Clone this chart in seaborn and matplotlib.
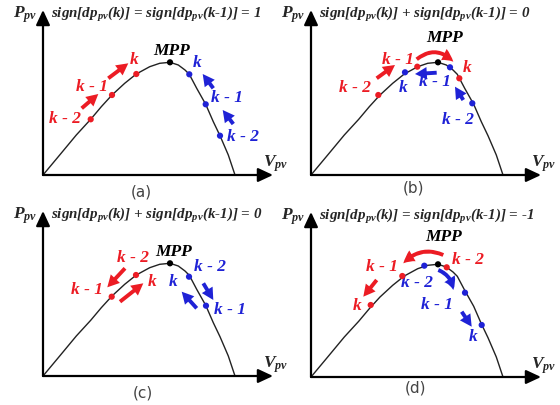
import seaborn as sns
import matplotlib.pyplot as plt

sns.set_style("white")
plt.rcParams["mathtext.fontset"] = "custom"
plt.rcParams["mathtext.rm"] = "Liberation Serif:bold"
plt.rcParams["mathtext.it"] = "Liberation Serif:italic:bold"
plt.rcParams["mathtext.bf"] = "Liberation Serif:italic:bold"

# P-V curve (arbitrary units)
v_curve = [0, 16.7, 33.3, 47.7, 58.3, 69, 81.7, 93.3, 106.7, 116.7, 127, 135.3,
           142, 146.3, 153.7, 162.7, 170.3, 177, 185.3, 192]
p_curve = [0, 20, 40, 55.7, 68.3, 80, 91.7, 101, 108.3, 111.7, 112.7, 110,
           105, 100.7, 86.7, 70.7, 53.3, 39.3, 20, 0]
mpp_v, mpp_p = 127, 112.7

panel_names = ["(a)", "(b)", "(c)", "(d)"]
conditions = [
    r"sign[dp$_{pv}$(k)] = sign[dp$_{pv}$(k-1)] = 1",
    r"sign[dp$_{pv}$(k)] + sign[dp$_{pv}$(k-1)] = 0",
    r"sign[dp$_{pv}$(k)] + sign[dp$_{pv}$(k-1)] = 0",
    r"sign[dp$_{pv}$(k)] = sign[dp$_{pv}$(k-1)] = -1",
]

# operating points (increasing-voltage side = red, decreasing side = blue)
red_v = [[47.7, 69, 93.3], [67.3, 106.3, 148.3], [93, 68.7], [135.7, 91.3, 59.7]]
red_p = [[55.7, 80, 101], [80, 108.3, 96.7], [101, 79.3], [109.7, 101, 72]]
blue_v = [[146.3, 162.7, 177], [161.3, 139, 94], [146, 163], [113.3, 154, 170.7]]
blue_p = [[100.7, 70.7, 39.3], [71.7, 107.7, 102.7], [99.3, 70.3], [111.3, 84.3, 52]]

red_labels = [["k - 2", "k - 1", "k"], ["k - 2", "k - 1", "k"],
              ["k - 2", "k - 1", "k"], ["k - 2", "k - 1", "k"]]
blue_labels = [["k", "k - 1", "k - 2"], ["k - 2", "k - 1", "k"],
               ["k - 2", "k", "k - 1"], ["k - 2", "k - 1", "k"]]

# layout
RED = "#ec1c24"
BLUE = "#1f22d6"
origins = [(43, 175), (311, 175), (43, 376), (311, 377)]
red_lab_xy = [[(22, 56), (48.7, 87.7), (91.3, 115)],
              [(44, 86.7), (87.3, 115), (155.7, 106.7)],
              [(90.3, 117.7), (43.7, 86), (108.7, 94.3)],
              [(157.3, 117), (70.7, 110.3), (45.7, 71)]]
blue_lab_xy = [[(153.7, 111.7), (183.7, 76.7), (200.3, 38.3)],
               [(147.3, 55), (124, 93.3), (92.3, 86.7)],
               [(167, 109.3), (130.3, 94.3), (187, 66)],
               [(105.7, 93.7), (125.7, 72), (161.7, 39.7)]]
mpp_xy = [(128.7, 124.3), (134, 136.7), (130.3, 124.3), (132.3, 140.3)]
arrows = [
    [((38.7, 66.7), (55.3, 81), 0, RED), ((65.3, 96.7), (85.3, 111.7), 0, RED),
     ((190.3, 51), (179.7, 65), 0, BLUE), ((170.3, 86.7), (159.7, 101), 0, BLUE)],
    [((65.7, 96.7), (84, 110), 0, RED), ((105.7, 115.7), (142.3, 113.3), -0.45, RED),
     ((125.7, 102.3), (104, 101), 0, BLUE), ((152.3, 75), (144, 88.3), 0, BLUE)],
    [((82, 107.7), (64.3, 88.7), 0, RED), ((77, 74.3), (100.3, 92.7), 0, RED),
     ((160.3, 92.7), (170.3, 76), 0, BLUE), ((153.7, 67.7), (138.7, 84.3), 0, BLUE)],
    [((132.3, 122), (92.3, 113.7), 0.35, RED), ((65.7, 97), (52.3, 80.3), 0, RED),
     ((127.3, 107), (142.3, 87), -0.3, BLUE), ((150.7, 65.3), (160.7, 50.3), 0, BLUE)],
]
name_xy = [(98.7, -16.7), (102.3, -13.3), (100.3, -16.7), (104, -11.3)]

W, H = 250, 172
serif = dict(family="Liberation Serif", style="italic", weight="bold")

fig = plt.figure(figsize=(5.6, 4.05), dpi=100)
for i in range(4):
    ox, oy = origins[i]
    ax = fig.add_axes([ox / 560, (405 - oy) / 405, W / 560, H / 405])
    ax.set_xlim(0, W)
    ax.set_ylim(0, H)
    ax.axis("off")

    axis_arrow = dict(arrowstyle="-|>,head_length=0.9,head_width=0.42",
                      mutation_scale=10, color="black", lw=1.6,
                      shrinkA=0, shrinkB=0)
    ax.annotate("", xy=(0, 165), xytext=(0, 0), arrowprops=axis_arrow,
                annotation_clip=False)
    ax.annotate("", xy=(230, 0), xytext=(0, 0), arrowprops=axis_arrow,
                annotation_clip=False)

    sns.lineplot(x=v_curve, y=p_curve, ax=ax, color="#222222", lw=1.0,
                 sort=False, estimator=None, legend=False)

    for (s, e, rad, col) in arrows[i]:
        ax.annotate("", xy=e, xytext=s, annotation_clip=False,
                    arrowprops=dict(arrowstyle="simple,head_length=0.85,head_width=0.9,tail_width=0.28",
                                    mutation_scale=10, color=col, lw=0,
                                    shrinkA=0, shrinkB=0,
                                    connectionstyle=f"arc3,rad={rad}"))

    sns.scatterplot(x=red_v[i], y=red_p[i], ax=ax, color=RED, s=20,
                    edgecolor="none", zorder=5)
    sns.scatterplot(x=blue_v[i], y=blue_p[i], ax=ax, color=BLUE, s=20,
                    edgecolor="none", zorder=5)
    sns.scatterplot(x=[mpp_v], y=[mpp_p], ax=ax, color="black", s=20,
                    edgecolor="none", zorder=5)

    for lab, (x, y) in zip(red_labels[i], red_lab_xy[i]):
        ax.text(x, y, lab, color=RED, fontsize=12.5, ha="center", va="center", **serif)
    for lab, (x, y) in zip(blue_labels[i], blue_lab_xy[i]):
        ax.text(x, y, lab, color=BLUE, fontsize=12.5, ha="center", va="center", **serif)
    ax.text(*mpp_xy[i], "MPP", color="black", fontsize=12.5, ha="center",
            va="center", **serif)

    ax.text(8, 160, conditions[i], fontsize=10.8, ha="left", va="center", **serif)
    ax.text(-6, 160, r"P$_{pv}$", fontsize=12.5, ha="right", va="center", **serif)
    ax.text(220, 11, r"V$_{pv}$", fontsize=12.5, ha="left", va="center", **serif)
    ax.text(*name_xy[i], panel_names[i], fontsize=11, color="#444444",
            ha="center", va="center", family="DejaVu Sans")

fig.savefig("out.png", dpi=100)
